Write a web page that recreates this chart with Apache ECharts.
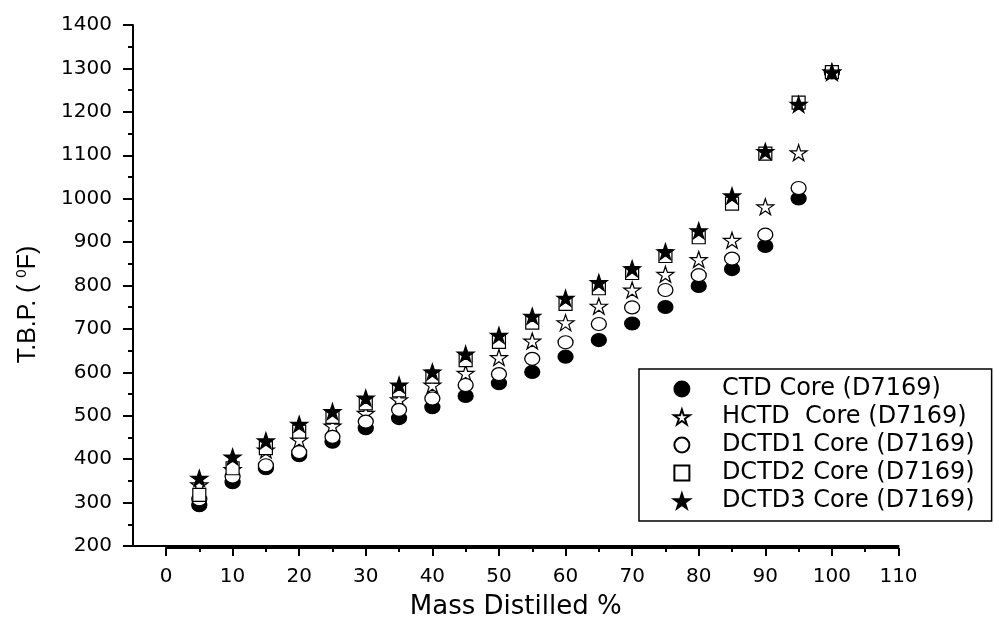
<!DOCTYPE html>
<html>
<head>
<meta charset="utf-8">
<script src="https://cdn.jsdelivr.net/npm/echarts@6/dist/echarts.min.js"></script>
<style>html,body{margin:0;padding:0;background:#fff}#c{width:994px;height:625px}</style>
</head>
<body>
<div id="c"></div>
<script>
const massPct = [5,10,15,20,25,30,35,40,45,50,55,60,65,70,75,80,85,90,95,100];
const ctd   = [298,351,383,413,444,475,498,523,549,578,604,639,677,715,753,801,840,893,1002,1292];
const hctd  = [345,380,425,448,480,509,540,574,601,637,675,717,755,792,828,862,906,983,1107,1292];
const dctd1 = [312,364,390,420,455,490,517,543,574,599,634,672,714,752,792,826,864,919,1026,1292];
const dctd2 = [322,383,429,467,501,532,562,593,631,673,717,760,796,831,870,913,990,1105,1222,1292];
const dctd3 = [360,409,446,484,513,544,574,604,645,688,732,773,809,841,880,928,1008,1110,1218,1292];
const seriesNames = ['CTD Core (D7169)','HCTD  Core (D7169)','DCTD1 Core (D7169)','DCTD2 Core (D7169)','DCTD3 Core (D7169)'];

const STAR = 'path://M50,0 L61.2,34.5 L97.6,34.5 L68.2,55.9 L79.4,90.5 L50,69.1 L20.6,90.5 L31.8,55.9 L2.4,34.5 L38.8,34.5 Z';
const SQUARE = 'path://M0,0 L10,0 L10,10 L0,10 Z';
const FONT = 'DejaVu Sans';
const pair = arr => massPct.map((x,i)=>[x,arr[i]]);

const styles = [
  {symbol:'circle', size:[15,13], color:'#000', border:'#000'},
  {symbol:STAR, size:[17,16], color:'#fff', border:'#000'},
  {symbol:'circle', size:[15,13], color:'#fff', border:'#000'},
  {symbol:SQUARE, size:[13,13], color:'#fff', border:'#000'},
  {symbol:STAR, size:[17,16], color:'#000', border:'#000'}
];
const dataSets = [ctd,hctd,dctd1,dctd2,dctd3];

const chart = echarts.init(document.getElementById('c'));
chart.setOption({
  animation:false,
  backgroundColor:'#fff',
  grid:[
    {left:166, right:95.5, top:25, bottom:77},
    {left:133, right:95.5, top:25, bottom:77}
  ],
  xAxis:[
    {gridIndex:0, type:'value', min:0, max:110, interval:10,
     axisLine:{show:true, onZero:false, lineStyle:{color:'#000', width:2}},
     axisTick:{show:true, length:8, lineStyle:{color:'#000', width:2}},
     minorTick:{show:true, splitNumber:2, length:4, lineStyle:{color:'#000', width:2}},
     splitLine:{show:false},
     axisLabel:{color:'#000', fontFamily:FONT, fontSize:20, margin:19}},
    {gridIndex:1, type:'value', min:-5, max:110,
     axisLine:{show:true, onZero:false, lineStyle:{color:'#000', width:2}},
     axisTick:{show:false}, axisLabel:{show:false}, splitLine:{show:false},
     name:'Mass Distilled %', nameLocation:'middle', nameGap:48,
     nameTextStyle:{color:'#000', fontFamily:FONT, fontSize:26}}
  ],
  yAxis:[
    {gridIndex:0, type:'value', min:200, max:1400, show:false, splitLine:{show:false}},
    {gridIndex:1, type:'value', min:200, max:1400, interval:100,
     axisLine:{show:true, onZero:false, lineStyle:{color:'#000', width:2}},
     axisTick:{show:true, length:10, lineStyle:{color:'#000', width:2}},
     minorTick:{show:true, splitNumber:2, length:5, lineStyle:{color:'#000', width:2}},
     splitLine:{show:false},
     axisLabel:{color:'#000', fontFamily:FONT, fontSize:20, margin:21, formatter: v => String(v)},
     name:'{a|T.B.P. ( }{sup|0}{a|F)}', nameLocation:'middle', nameGap:90,
     nameTextStyle:{color:'#000', fontFamily:'Liberation Sans', fontSize:25, padding:[0,38,0,0],
       rich:{a:{fontFamily:'Liberation Sans', fontSize:25, color:'#000'},
             sup:{fontFamily:'Liberation Sans', fontSize:15, color:'#000', verticalAlign:'top', padding:[0,0,14,0]}}}}
  ],
  legend:{
    orient:'vertical', left:639, top:369,
    padding:[8,17,8,34],
    itemWidth:70, itemHeight:15, itemGap:4,
    borderColor:'#000', borderWidth:1.5, borderRadius:0,
    textStyle:{color:'#000', fontFamily:FONT, fontSize:24, lineHeight:24},
    data:seriesNames
  },
  series: dataSets.map((d,i)=>({
    name:seriesNames[i], type:'scatter', xAxisIndex:0, yAxisIndex:0,
    data:pair(d), symbol:styles[i].symbol, symbolSize:styles[i].size,
    itemStyle:{color:styles[i].color, borderColor:styles[i].border, borderWidth:1.2, opacity:1},
    z:2+i
  }))
});
</script>
</body>
</html>
